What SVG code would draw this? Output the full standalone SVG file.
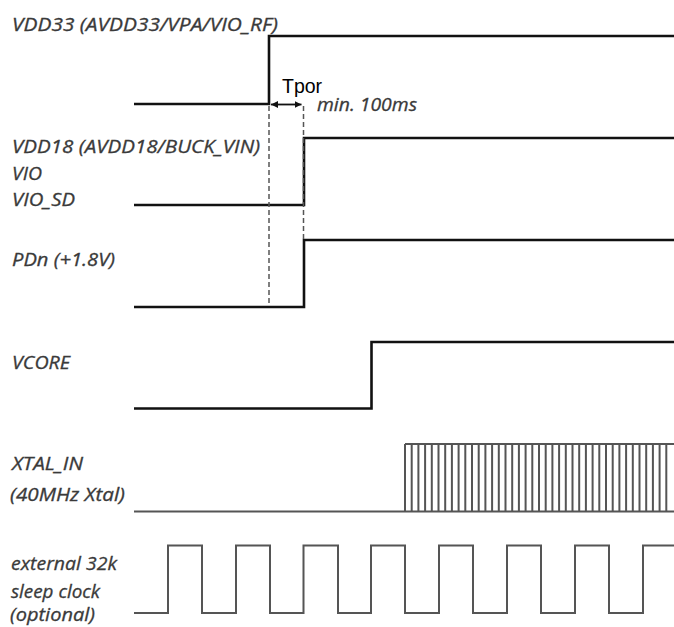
<svg xmlns="http://www.w3.org/2000/svg" width="674" height="627" viewBox="0 0 674 627">
<defs>
<style>
.lbl{font-family:"Open Sans","Liberation Sans",sans-serif;font-style:italic;font-size:18px;fill:#3a3a3a;stroke:#3a3a3a;stroke-width:0.3}
.sig{fill:none;stroke:#111;stroke-width:2.6;stroke-linejoin:miter}
.clk{fill:none;stroke:#555;stroke-width:2}
.dash{fill:none;stroke:#555;stroke-width:1.5;stroke-dasharray:5 3}
</style>
<marker id="ah" viewBox="0 0 10 10" refX="10" refY="5" markerWidth="7" markerHeight="7" orient="auto-start-reverse" markerUnits="userSpaceOnUse">
<path d="M0,0 L10,5 L0,10 z" fill="#111"/>
</marker>
</defs>
<rect width="674" height="627" fill="#fff"/>
<g id="labels">
<text class="lbl" x="12" y="31" textLength="266" lengthAdjust="spacingAndGlyphs">VDD33 (AVDD33/VPA/VIO_RF)</text>
<text class="lbl" x="12" y="153" textLength="248" lengthAdjust="spacingAndGlyphs">VDD18 (AVDD18/BUCK_VIN)</text>
<text class="lbl" x="12" y="180" textLength="30" lengthAdjust="spacingAndGlyphs">VIO</text>
<text class="lbl" x="12" y="206" textLength="63" lengthAdjust="spacingAndGlyphs">VIO_SD</text>
<text class="lbl" x="12" y="266" textLength="103" lengthAdjust="spacingAndGlyphs">PDn (+1.8V)</text>
<text class="lbl" x="12" y="369" textLength="58" lengthAdjust="spacingAndGlyphs">VCORE</text>
<text class="lbl" x="12" y="470" textLength="71" lengthAdjust="spacingAndGlyphs">XTAL_IN</text>
<text class="lbl" x="10" y="501" textLength="115" lengthAdjust="spacingAndGlyphs">(40MHz Xtal)</text>
<text class="lbl" x="11" y="570" textLength="106" lengthAdjust="spacingAndGlyphs">external 32k</text>
<text class="lbl" x="11" y="598" textLength="89" lengthAdjust="spacingAndGlyphs">sleep clock</text>
<text class="lbl" x="10" y="621" textLength="85" lengthAdjust="spacingAndGlyphs">(optional)</text>
</g>
<g id="vdd33"><path class="sig" d="M134,104 H269 V36 H674"/></g>
<g id="vdd18"><path class="sig" d="M134,205 H304 V138 H674"/></g>
<g id="pdn"><path class="sig" d="M134,307 H304 V240 H674"/></g>
<g id="vcore"><path class="sig" d="M134,408.5 H371.5 V342 H674"/></g>
<g id="xtal">
<path class="clk" d="M134,511.5 H674 M405,444 H674"/>
<path class="clk" stroke-width="1.8" d="M405,444V511.5M411.7,444V511.5M418.4,444V511.5M425.1,444V511.5M431.8,444V511.5M438.5,444V511.5M445.2,444V511.5M451.9,444V511.5M458.6,444V511.5M465.3,444V511.5M472,444V511.5M478.7,444V511.5M485.4,444V511.5M492.1,444V511.5M498.8,444V511.5M505.5,444V511.5M512.2,444V511.5M518.9,444V511.5M525.6,444V511.5M532.3,444V511.5M539,444V511.5M545.7,444V511.5M552.4,444V511.5M559.1,444V511.5M565.8,444V511.5M572.5,444V511.5M579.2,444V511.5M585.9,444V511.5M592.6,444V511.5M599.3,444V511.5M606,444V511.5M612.7,444V511.5M619.4,444V511.5M626.1,444V511.5M632.8,444V511.5M639.5,444V511.5M646.2,444V511.5M652.9,444V511.5M659.6,444V511.5M666.3,444V511.5"/>
</g>
<g id="clk32k"><path class="clk" d="M134,613 H168 V545.5 H202 V613 H236 V545.5 H270 V613 H303.5 V545.5 H338 V613 H371 V545.5 H405 V613 H439 V545.5 H473 V613 H507 V545.5 H541 V613 H575 V545.5 H609 V613 H643 V545.5 H674"/></g>
<g id="connectors">
<path class="dash" d="M269,106 V303"/>
<path class="dash" d="M303.5,106 V240"/>
<path d="M271,104.5 H301.5" fill="none" stroke="#111" stroke-width="1.8" marker-start="url(#ah)" marker-end="url(#ah)"/>
</g>
<g id="tpor">
<text x="282" y="93" font-family="Liberation Sans, Arial, sans-serif" font-size="19.5" fill="#000">Tpor</text>
<text class="lbl" x="317" y="110.5" textLength="100" lengthAdjust="spacingAndGlyphs">min. 100ms</text>
</g>
</svg>
